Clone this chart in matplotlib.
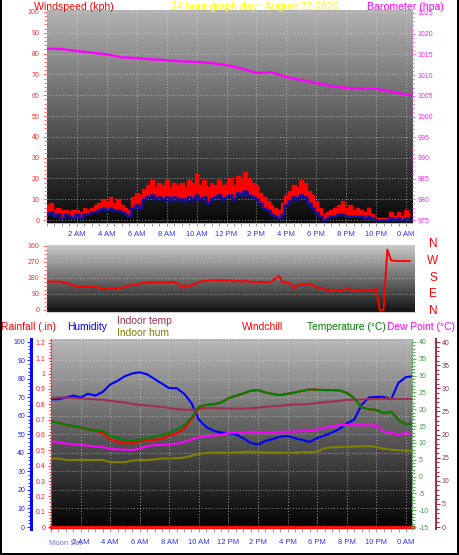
import numpy as np
import matplotlib.pyplot as plt
from matplotlib.ticker import MultipleLocator, FuncFormatter
from matplotlib.patches import Rectangle

plt.rcParams['font.family'] = ['Liberation Sans', 'DejaVu Sans']
plt.rcParams['axes.unicode_minus'] = False

W, H = 459, 555
PT = 0.72  # points per pixel at 100 dpi

# ---- wind, 15 minute samples (kph) ----
wind_hours = np.arange(0, 24.5, 0.25)
gust = [7, 8, 5, 6, 5, 5, 4, 5,
        5, 4, 6, 5, 6, 7, 8, 10,
        9, 11, 8, 10, 7, 6, 5, 11,
        13, 12, 15, 17, 19, 16, 18, 17,
        19, 16, 18, 17, 18, 16, 19, 18,
        22, 17, 19, 16, 18, 17, 19, 17,
        18, 20, 17, 21, 19, 23, 20, 18,
        17, 13, 11, 9, 7, 6, 5, 8,
        12, 14, 17, 16, 19, 18, 14, 12,
        9, 6, 3, 4, 5, 6, 7, 9,
        6, 7, 5, 6, 5, 4, 6, 3,
        1, 1, 1, 1, 4, 2, 4, 2,
        5, 3]
avg = [3, 4, 2, 3, 1, 3, 2, 1,
       3, 1, 3, 3, 4, 4, 5, 6,
       5, 6, 5, 5, 4, 3, 2, 6,
       7, 6, 10, 11, 12, 10, 11, 10,
       11, 9, 11, 10, 10, 9, 11, 10,
       12, 10, 11, 8, 10, 11, 12, 10,
       11, 12, 10, 13, 12, 14, 12, 11,
       10, 8, 6, 5, 3, 2, 1, 3,
       7, 9, 11, 10, 12, 11, 8, 6,
       4, 2, 0, 1, 2, 2, 3, 3,
       2, 2, 2, 2, 2, 1, 2, 1,
       0, 0, 0, 0, 1, 0, 1, 0,
       1, 0]
direction = [160, 160, 160, 160, 158, 152, 148, 140,
             132, 131, 130, 131, 130, 130, 125, 120,
             118, 118, 122, 125, 125, 130, 138, 140,
             142, 150, 154, 155, 156, 155, 157, 156,
             155, 158, 156, 150, 125, 140, 132, 145,
             150, 162, 160, 165, 167, 168, 166, 168,
             165, 168, 160, 165, 158, 168, 158, 160,
             155, 160, 158, 155, 160, 175, 192, 158,
             155, 150, 122, 140, 145, 140, 148, 142,
             128, 125, 120, 110, 108, 108, 110, 108,
             120, 115, 110, 112, 108, 115, 112, 112,
             120, 0, 0, 340, 280, 275, 275, 275,
             275, 275]

# ---- barometer, hourly (hPa) ----
baro_hours = np.arange(0, 26, 1)
barometer = [1016.4, 1016.3, 1015.8, 1015.4, 1015.0, 1014.3, 1014.1, 1013.8,
             1013.6, 1013.3, 1013.2, 1012.9, 1012.4, 1011.6, 1010.5, 1010.7,
             1009.5, 1008.8, 1008.1, 1007.4, 1006.9, 1006.8, 1006.7, 1006.0,
             1005.3, 1005.2]

# ---- half-hourly outdoor / indoor values ----
day_hours = np.arange(0, 25, 0.5)
humidity = [69, 69, 70, 71, 70, 72, 71, 73,
            77, 79, 81.5, 83, 83.6, 82.5, 80, 77.5,
            75, 75, 72, 67, 58, 54, 52, 51,
            50.7, 50, 48, 45.5, 44.5, 46.5, 47.5, 48.8,
            49.2, 48, 47, 46, 48, 49.5, 51, 53,
            56, 58, 66, 70, 70.3, 70.3, 69, 78,
            81, 81.5]
temperature = [16.4, 16.0, 15.4, 15.0, 14.6, 14.0, 13.8, 13.5,
               12.1, 11.4, 10.8, 10.6, 10.9, 11.5, 12.0, 12.3,
               13.0, 13.9, 15.2, 17.5, 20.8, 21.3, 21.5, 22.0,
               23.3, 24.0, 24.7, 25.5, 25.7, 25.0, 24.5, 24.2,
               24.6, 25.0, 25.5, 25.9, 25.8, 25.7, 25.7, 25.6,
               24.9, 23.3, 20.6, 20.0, 19.8, 18.8, 19.3, 16.8,
               15.5, 15.8]
windchill = [16.4, 16.0, 15.4, 15.0, 14.6, 14.0, 13.8, 12.8,
             11.1, 10.4, 10.0, 9.9, 10.4, 11.0, 10.9, 11.2,
             12.3, 12.8, 14.2, 17.0, 20.3, 21.3, 21.5, 22.0,
             23.3, 24.0, 24.7, 25.5, 25.7, 25.0, 24.5, 24.2,
             24.6, 25.0, 25.5, 25.9, 25.8, 25.7, 25.7, 25.6,
             24.9, 23.3, 20.6, 20.0, 19.8, 18.8, 19.3, 16.8,
             15.5, 15.8]
dew_point = [10.5, 10.1, 9.8, 9.6, 9.4, 9.2, 9.0, 8.8,
             8.2, 8.1, 8.0, 7.9, 8.3, 9.1, 9.3, 9.4,
             9.6, 9.8, 10.3, 11.0, 11.7, 12.0, 12.2, 12.4,
             13.0, 13.1, 13.2, 13.3, 13.2, 13.1, 13.2, 13.3,
             13.3, 13.4, 13.5, 13.6, 14.0, 14.5, 14.9, 15.3,
             15.4, 15.3, 15.3, 15.2, 15.2, 13.4, 13.0, 12.3,
             13.0, 12.3]
indoor_temp = [27.8, 28.0, 28.0, 27.9, 27.8, 27.7, 27.6, 27.5,
               27.3, 27.1, 26.9, 26.6, 26.4, 26.3, 26.1, 26.0,
               25.7, 25.5, 25.4, 25.3, 25.5, 25.7, 25.7, 25.7,
               25.6, 25.6, 25.6, 25.7, 25.8, 26.0, 26.1, 26.2,
               26.4, 26.5, 26.5, 26.6, 26.8, 27.0, 27.1, 27.3,
               27.5, 27.5, 27.6, 27.6, 27.7, 27.7, 27.7, 27.7,
               27.7, 27.7]
indoor_hum = [37, 37, 36.3, 36.2, 36.2, 36.2, 36.2, 36.2,
              35, 35, 35, 36, 36.2, 36.2, 36.5, 37,
              37, 37.2, 37.5, 38.5, 39.5, 40, 40.2, 40.2,
              40.2, 40.3, 40.5, 40.7, 40.5, 40.2, 40.2, 40.2,
              40.2, 40.3, 40.4, 40.5, 40.7, 42.5, 43.1, 43.2,
              43.4, 43.5, 43.6, 43.8, 43.2, 42.3, 41.8, 41.5,
              41.2, 41.2]
rain = [0.0] * 50

hour_ticks = list(range(2, 25, 2))
hour_labels = ['2 AM', '4 AM', '6 AM', '8 AM', '10 AM', '12 PM',
               '2 PM', '4 PM', '6 PM', '8 PM', '10 PM', '0 AM']
compass = ['N', 'W', 'S', 'E', 'N']


def box(l, t, r, b):
    return [l / W, 1 - b / H, (r - l) / W, (b - t) / H]


def put(x, y, s, color, size=7.6, **kw):
    fig.text(x / W, 1 - y / H, s, color=color, fontsize=size, va='baseline', **kw)


def backdrop(ax, top, bottom, xlim, ylim):
    shade = np.linspace(top, bottom, 256)[:, None]
    ax.imshow(shade, cmap='gray', vmin=0, vmax=1, aspect='auto',
              extent=(xlim[0], xlim[1], ylim[0], ylim[1]), zorder=0)
    ax.set_xlim(xlim)
    ax.set_ylim(ylim)


def no_spines(ax):
    for s in ax.spines.values():
        s.set_visible(False)


def y_ticks(ax, major, minor, tick_c, label_c, length=4, pad=2.0):
    ax.set_yticks(major)
    ax.yaxis.set_minor_locator(MultipleLocator(minor))
    ax.tick_params(axis='y', which='both', colors=tick_c, labelcolor=label_c,
                   labelsize=5, width=1.1 * PT, pad=pad)
    ax.tick_params(axis='y', which='major', length=length * PT)
    ax.tick_params(axis='y', which='minor', length=(length - 1) * PT)


def x_hours(ax, pad):
    ax.set_xticks(hour_ticks, hour_labels)
    ax.xaxis.set_minor_locator(MultipleLocator(0.5))
    ax.tick_params(axis='x', which='both', colors='#9a9a9a', labelcolor='#3030ff',
                   labelsize=5.5, length=3 * PT, width=1 * PT, pad=pad)


fig = plt.figure(figsize=(W / 100, H / 100), dpi=100)
fig.patch.set_facecolor('white')

# ---------- wind speed / barometer ----------
ax1 = fig.add_axes(box(47, 10, 412, 223))
backdrop(ax1, 0.70, 0.03, (0, 24.4), (-1.44, 100.96))
ax1.fill_between(wind_hours, avg, gust, step='mid', color='#ff0000', lw=0, zorder=2)
ax1.plot(wind_hours, gust, color='#ff0000', lw=1.0, drawstyle='steps-mid', zorder=3)
ax1.plot(wind_hours, avg, color='#12129c', lw=1.8, drawstyle='steps-mid', zorder=4)
x_hours(ax1, 3.5)
y_ticks(ax1, range(0, 101, 10), 2, '#ff7878', '#ff2a2a', pad=2.5)
ax1.grid(True, which='major', color='#d8d8d8', ls=':', lw=0.8, alpha=0.55)
no_spines(ax1)
ax1.spines['bottom'].set_visible(True)
ax1.spines['bottom'].set_color('#b8b8b8')

ax1b = ax1.twinx()
ax1b.plot(baro_hours, barometer, color='#ff00ff', lw=1.7, zorder=5)
ax1b.set_ylim(974.28, 1025.72)
ax1b.set_xlim(0, 24.4)
y_ticks(ax1b, range(975, 1026, 5), 1, '#ff60ff', '#ff20ff', length=3, pad=2)
no_spines(ax1b)

put(34, 9.5, 'Windspeed (kph)', '#ff0000')
put(255, 9.5, '24 hour graph day : August 22 2026', '#ffff00', ha='center')
put(367, 9.5, 'Barometer (hpa)', '#ff00ff')

# ---------- wind direction ----------
ax2 = fig.add_axes(box(47, 245, 415, 312))
backdrop(ax2, 0.80, 0.07, (0, 24.6), (-11.25, 365.6))
ax2.plot(wind_hours, direction, color='#ff0000', lw=1.4, zorder=3)
ax2.set_xticks([])
y_ticks(ax2, [0, 90, 180, 270, 360], 22.5, '#ff7878', '#ff2a2a', pad=2.5)
for v in [90, 180, 270]:
    ax2.axhline(v, color='#d8d8d8', ls=':', lw=0.8, alpha=0.5, zorder=1)
no_spines(ax2)
ax2.spines['bottom'].set_visible(True)
ax2.spines['bottom'].set_color('#d0d0d0')
for i, letter in enumerate(compass):
    fig.text(433 / W, 1 - (244 + i * 16.8) / H, letter, color='#ff0000',
             fontsize=8.5, ha='center', va='center')

# ---------- temperature / humidity / rain ----------
ax3 = fig.add_axes(box(51, 339, 412, 529))
backdrop(ax3, 0.72, 0.0, (0, 24.41), (-0.013, 1.226))
ax3.plot(day_hours, rain, color='#ff0000', lw=2.4, zorder=6, clip_on=False)
x_hours(ax3, 5.0)
ax3.grid(True, axis='x', which='major', color='#d8d8d8', ls=':', lw=0.8, alpha=0.55)
y_ticks(ax3, np.arange(0, 1.21, 0.1), 0.02, '#ff4040', '#ff2020', length=3, pad=2)
ax3.yaxis.set_major_formatter(FuncFormatter(lambda v, p: f'{v:.1f}'.rstrip('0').rstrip('.') if v else '0'))
no_spines(ax3)
ax3.spines['left'].set_visible(True)
ax3.spines['left'].set_color('#ff3030')
ax3.spines['left'].set_linestyle(':')

ax3h = ax3.twinx()
no_spines(ax3h)
ax3h.set_xlim(0, 24.41)
ax3h.set_ylim(-1.08, 101.6)
ax3h.yaxis.set_ticks_position('left')
ax3h.spines['left'].set_visible(True)
ax3h.spines['left'].set_position(('outward', 20.5 * PT))
ax3h.spines['left'].set_color('#0000ff')
ax3h.spines['left'].set_linewidth(3 * PT)
y_ticks(ax3h, range(0, 101, 10), 2, '#2a2aff', '#2020ff', length=4, pad=1)
ax3h.grid(True, axis='y', which='major', color='#d8d8d8', ls=':', lw=0.8, alpha=0.5)
ax3h.plot(day_hours, indoor_hum, color='#808000', lw=1.5)
ax3h.plot(day_hours, humidity, color='#0000ff', lw=1.5)

ax3i = ax3.twinx()
no_spines(ax3i)
ax3i.set_xlim(0, 24.41)
ax3i.set_ylim(-0.43, 40.65)
ax3i.spines['right'].set_visible(True)
ax3i.spines['right'].set_position(('outward', 24 * PT))
ax3i.spines['right'].set_color('#a03050')
ax3i.spines['right'].set_linewidth(2 * PT)
y_ticks(ax3i, range(0, 41, 5), 1, '#a03050', '#a03050', length=4, pad=1)
ax3i.plot(day_hours, indoor_temp, color='#a03050', lw=1.5)

ax3t = ax3.twinx()
no_spines(ax3t)
ax3t.set_xlim(0, 24.41)
ax3t.set_ylim(-15.59, 40.89)
ax3t.spines['right'].set_visible(True)
ax3t.spines['right'].set_color('#50a050')
ax3t.spines['right'].set_linestyle(':')
y_ticks(ax3t, range(-15, 41, 5), 1, '#60b060', '#40a040', length=4, pad=2)
ax3t.plot(day_hours, windchill, color='#ff0000', lw=1.5)
ax3t.plot(day_hours, temperature, color='#008000', lw=1.5)
ax3t.plot(day_hours, dew_point, color='#ff00ff', lw=1.5)

put(1, 330, 'Rainfall (.in)', '#ff0000', 7.4)
put(67, 330, 'Humidity', '#0000ff', 7.4)
put(117, 324, 'Indoor temp', '#a03050', 7.4)
put(117, 336, 'Indoor hum', '#808000', 7.4)
put(242, 330, 'Windchill', '#ff0000', 7.4)
put(307, 330, 'Temperature (°C)', '#008000', 7.4)
put(387, 330, 'Dew Point (°C)', '#ff00ff', 7.4)
put(49, 545, 'Moon Set', '#7070ff', 5.5)

# outer frame (left, right, bottom)
for rect in [(0, 0, 2 / W, 1), (1 - 2 / W, 0, 2 / W, 1), (0, 0, 1, 2.5 / H)]:
    fig.add_artist(Rectangle(rect[:2], rect[2], rect[3], transform=fig.transFigure,
                             color='black', lw=0))

fig.savefig('out.png', dpi=100)
